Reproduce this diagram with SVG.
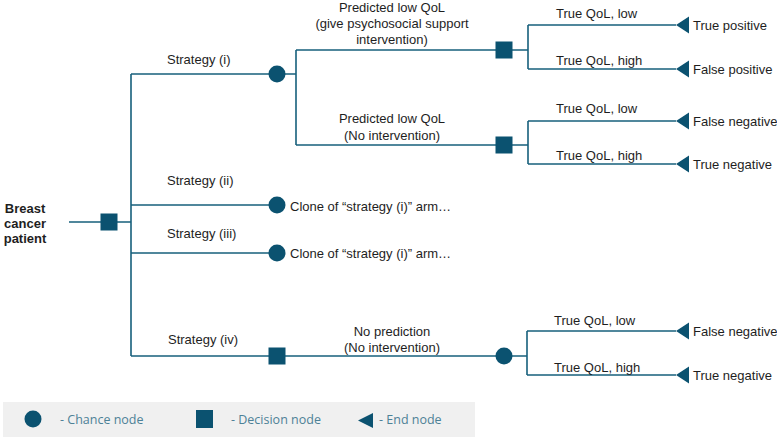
<svg xmlns="http://www.w3.org/2000/svg" width="777" height="440" viewBox="0 0 777 440">
<style>
.ln{stroke:#17607c;stroke-width:1.6;fill:none}
.nd{fill:#0b5270}
.t{font-family:"Liberation Sans",Arial,sans-serif;font-size:13px;fill:#1e1e1e}
.b{font-weight:bold}
.m{text-anchor:middle}
.lg{font-family:"Open Sans","DejaVu Sans",sans-serif;font-size:12.5px;fill:#4d8197}
</style>
<defs>
<circle id="chance" r="8.5" class="nd"/>
<rect id="decision" x="-8.5" y="-8.5" width="17" height="17" class="nd"/>
<polygon id="end" points="0,0 13,-8.5 13,8.5" class="nd"/>
</defs>
<rect x="3" y="402" width="472" height="35" fill="#f0f0f0"/>
<g id="connectors">
<path class="ln" d="M69,222H131M131,74V356M131,74H277M131,205H277M131,253H277M131,356H504"/>
<path class="ln" d="M277,74H296M296,50V145M296,50H504M296,145H504"/>
<path class="ln" d="M504,50H528M528,25V69M528,25H676M528,69H676"/>
<path class="ln" d="M504,145H528M528,121V164M528,121H676M528,164H676"/>
<path class="ln" d="M504,356H527M527,331V375M527,331H676M527,375H676"/>
</g>
<g id="root"><use href="#decision" x="109" y="222"/><text class="t b m" x="25" y="213">Breast</text><text class="t b m" x="25" y="228">cancer</text><text class="t b m" x="25" y="243">patient</text></g>
<g id="strategy-i"><use href="#chance" x="277" y="74"/><text class="t" x="167" y="64">Strategy (i)</text></g>
<g id="strategy-ii"><use href="#chance" x="277" y="205"/><text class="t" x="167" y="185">Strategy (ii)</text><text class="t" x="290" y="211">Clone of “strategy (i)” arm…</text></g>
<g id="strategy-iii"><use href="#chance" x="277" y="253"/><text class="t" x="167" y="238">Strategy (iii)</text><text class="t" x="290" y="258">Clone of “strategy (i)” arm…</text></g>
<g id="strategy-iv"><use href="#decision" x="277" y="356"/><text class="t" x="168" y="344">Strategy (iv)</text></g>
<g id="pred-low-int"><use href="#decision" x="504" y="50"/><text class="t m" x="392" y="12">Predicted low QoL</text><text class="t m" x="392" y="28">(give psychosocial support</text><text class="t m" x="392" y="44">intervention)</text></g>
<g id="pred-low-noint"><use href="#decision" x="504" y="145"/><text class="t m" x="392" y="123">Predicted low QoL</text><text class="t m" x="392" y="140">(No intervention)</text></g>
<g id="no-pred"><use href="#chance" x="504" y="356"/><text class="t m" x="392" y="336">No prediction</text><text class="t m" x="392" y="352">(No intervention)</text></g>
<g id="end-tp"><use href="#end" x="676" y="25"/><text class="t" x="556" y="18">True QoL, low</text><text class="t" x="693" y="30">True positive</text></g>
<g id="end-fp"><use href="#end" x="676" y="69"/><text class="t" x="556" y="65">True QoL, high</text><text class="t" x="693" y="74">False positive</text></g>
<g id="end-fn1"><use href="#end" x="676" y="121"/><text class="t" x="556" y="113">True QoL, low</text><text class="t" x="693" y="126">False negative</text></g>
<g id="end-tn1"><use href="#end" x="676" y="164"/><text class="t" x="556" y="160">True QoL, high</text><text class="t" x="693" y="169">True negative</text></g>
<g id="end-fn2"><use href="#end" x="676" y="331"/><text class="t" x="554" y="325">True QoL, low</text><text class="t" x="693" y="336">False negative</text></g>
<g id="end-tn2"><use href="#end" x="676" y="375"/><text class="t" x="554" y="372">True QoL, high</text><text class="t" x="693" y="380">True negative</text></g>
<g id="legend">
<use href="#chance" x="33" y="419"/><text class="lg" x="60" y="423.5">- Chance node</text>
<rect x="196" y="410" width="17" height="18" class="nd"/><text class="lg" x="231" y="423.5">- Decision node</text>
<polygon points="358,420.5 373,413 373,428" class="nd"/><text class="lg" x="379" y="423.5">- End node</text>
</g>
</svg>
